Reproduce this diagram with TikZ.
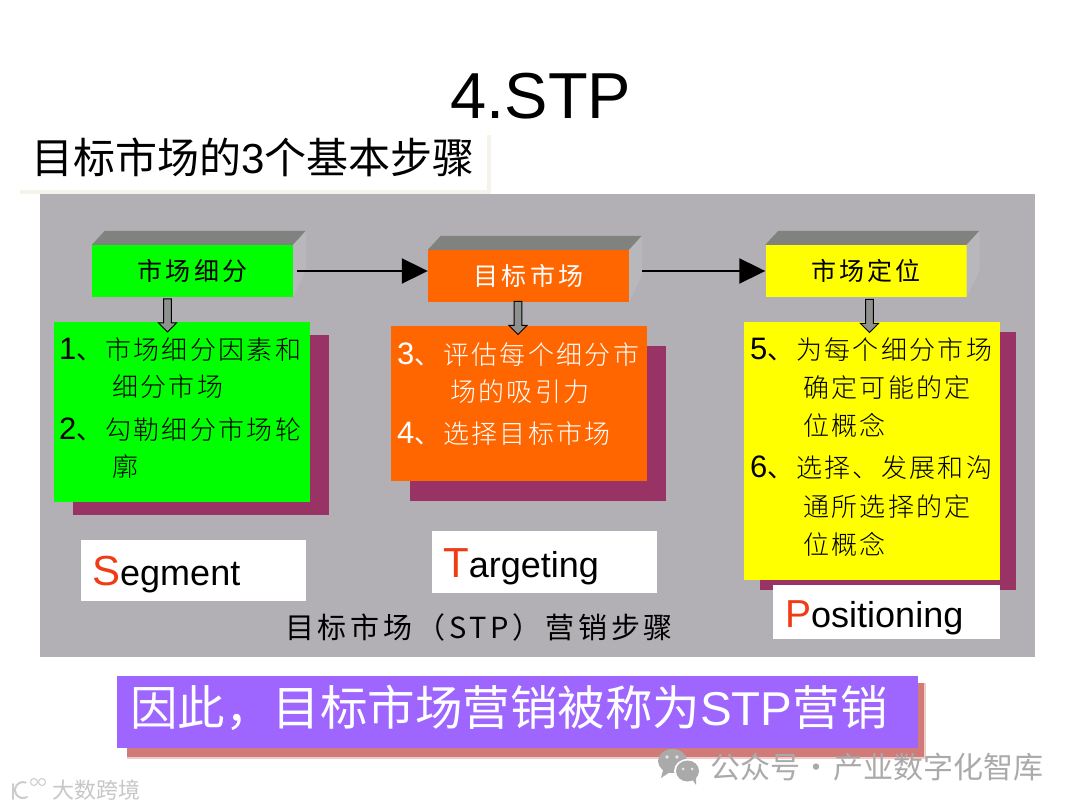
\documentclass[tikz,border=0pt]{standalone}
\usepackage{fontspec}
\usepackage{xcolor}
\usetikzlibrary{arrows,positioning,shapes.arrows}
\usepgflibrary{arrows.meta}
\setmainfont{Liberation Sans}
\newfontfamily\cjk{Noto Sans CJK SC}
\newfontfamily\cjkwide[LetterSpace=9]{Noto Sans CJK SC Light}
\newfontfamily\cjkhead[LetterSpace=13]{Noto Sans CJK SC}
\definecolor{panelgrey}{RGB}{178,176,180}
\definecolor{topgrey}{RGB}{128,130,128}
\definecolor{sidegrey}{RGB}{184,184,188}
\definecolor{arrowgrey}{RGB}{143,145,143}
\definecolor{maroon}{RGB}{153,51,102}
\definecolor{stpgreen}{RGB}{0,255,0}
\definecolor{stporange}{RGB}{255,102,0}
\definecolor{stpyellow}{RGB}{255,255,0}
\definecolor{stppurple}{RGB}{158,102,255}
\definecolor{letterred}{RGB}{240,60,20}
\definecolor{markgrey}{RGB}{170,170,170}
\definecolor{cream}{RGB}{246,243,234}
\definecolor{bannershade}{RGB}{208,122,122}
\definecolor{bannerfade}{RGB}{238,205,200}
\newcommand{\numline}[2]{\makebox[46pt][l]{{\fontsize{31}{31}\selectfont\rmfamily #1}\cjk 、}#2}
\newcommand{\contline}[1]{\hspace*{53pt}#1}
\newcommand{\bigletter}[3][42]{\raisebox{-15pt}[0pt][0pt]{{\fontsize{#1}{#1}\selectfont\color{letterred}#2}{\fontsize{36}{36}\selectfont #3}}}
\newcommand{\raised}[1]{
    \fill[topgrey] (#1.north west) -- ++(13,-14) -- ++(201,0) -- (#1.north east) -- cycle;
    \fill[sidegrey] (#1.north east) -- ++(13,-14) -- ++(0,39) -- (#1.south east) -- cycle;
}
\begin{document}
\begin{tikzpicture}
    [x=1pt, y=-1pt,
    header/.style={minimum width=201pt, minimum height=52pt, inner sep=0pt, font=\cjkhead\fontsize{25}{25}\selectfont},
    bodybox/.style={anchor=north west, minimum width=256pt, inner sep=0pt},
    backbox/.style={bodybox, fill=maroon},
    bodytext/.style={anchor=north west, inner sep=0pt, align=left, font=\cjkwide\fontsize{26}{37}\selectfont},
    namebox/.style={anchor=north west, fill=white, minimum width=225pt, inner sep=0pt, inner xsep=11pt, text width=203pt, align=left},
    downarrow/.style={single arrow, draw=black, fill=arrowgrey, line width=1pt, shape border rotate=270, minimum height=33pt, minimum width=18pt, inner sep=3pt, single arrow head extend=4.5pt, single arrow head indent=0pt},
    flow/.style={line width=2pt, -{Triangle[length=26pt,width=25pt]}}]
        \useasboundingbox (0,0) rectangle (1080,810);
        \fill[white] (0,0) rectangle (1080,810);

        %% Titles
        \node (title) at (541,96) {\fontsize{65}{65}\selectfont 4.STP};
        \fill[cream] (20,190) rectangle (491,194);
        \fill[cream] (487,135) rectangle (491,194);
        \node[anchor=west, inner sep=0pt] (subtitle) at (31,157) {\fontsize{42}{42}\selectfont\cjk 目标市场的{\rmfamily 3}个基本步骤};

        %% Grey panel
        \node[anchor=north west, fill=panelgrey, minimum width=995pt, minimum height=463pt, inner sep=0pt] (panel) at (40,194) {};

        %% Steps
        \node[header, fill=stpgreen] (S1) at (192.5,271) {市场细分};
        \node[header, fill=stporange, text=white] (T1) at (528.5,276) {目标市场};
        \node[header, fill=stpyellow] (P1) at (866,271) {市场定位};
        \raised{S1}
        \raised{T1}
        \raised{P1}

        \draw[flow, shorten <=4pt] (S1.east) -- (S1.east -| T1.west);
        \draw[flow, shorten <=13pt] (T1.east |- P1.west) -- (P1.west);

        %% Shadows and boxes
        \node[backbox, minimum height=180pt] (S3) at (73,335) {};
        \node[bodybox, fill=stpgreen, minimum height=180pt] (S2) at (54,322) {};
        \node[backbox, minimum height=155pt] (T3) at (410,346) {};
        \node[bodybox, fill=stporange, minimum height=155pt] (T2) at (391,326) {};
        \node[backbox, minimum height=258pt] (P3) at (760,332) {};
        \node[bodybox, fill=stpyellow, minimum height=258pt] (P2) at (744,322) {};

        \node[downarrow] (SA) at (167.5,313.5) {};
        \node[downarrow] (TA) at (518,316) {};
        \node[downarrow] (PA) at (869.5,314) {};

        \node[bodytext] (Stext) at (59,337) {\numline{1}{市场细分因素和}\\\contline{细分市场}\\[6pt]\numline{2}{勾勒细分市场轮}\\\contline{廓}};
        \node[bodytext, text=white] (Ttext) at (397,342) {\numline{3}{评估每个细分市}\\\contline{场的吸引力}\\[5pt]\numline{4}{选择目标市场}};
        \node[bodytext] (Ptext) at (750,337) {\numline{5}{为每个细分市场}\\[1.5pt]\contline{确定可能的定}\\[1pt]\contline{位概念}\\[5pt]\numline{6}{选择、发展和沟}\\[1.5pt]\contline{通所选择的定}\\[1pt]\contline{位概念}};

        %% Names of the steps
        \node[namebox, minimum height=61pt] (Sname) at (81,540) {\bigletter{S}{egment}};
        \node[namebox, minimum height=62pt] (Tname) at (432,531) {\bigletter{T}{argeting}};
        \node[namebox, minimum height=54pt, minimum width=226pt, inner xsep=12pt] (Pname) at (773,585) {\bigletter[39]{P}{ositioning}};
        \node (caption) at (479,627) {\cjkhead\fontsize{29}{29}\selectfont 目标市场（STP）营销步骤};

        %% Banner
        \fill[bannerfade] (127,683) rectangle (926,759);
        \fill[bannershade] (127,683) rectangle (924,757);
        \node[anchor=north west, fill=stppurple, minimum width=801pt, minimum height=72pt, inner sep=0pt] (banner) at (117,676) {};
        \node[anchor=west, inner sep=0pt, text=white] (bannertext) at (130,708) {\fontsize{47.5}{47.5}\selectfont\cjk 因此，目标市场营销被称为{\rmfamily STP}营销};

        %% Marks at the foot
        \fill[markgrey] (672.5,761) ellipse (14.5 and 12);
        \fill[markgrey] (663,770) -- (661,778) -- (670,772) -- cycle;
        \fill[white] (687.5,771) ellipse (13.5 and 12);
        \fill[markgrey] (687.5,771) ellipse (11.5 and 10.5);
        \fill[markgrey] (692,779) -- (696,785) -- (696,775) -- cycle;
        \fill[white!70!markgrey] (667,757) circle (1.8) (677,757) circle (1.8) (683,769) circle (1.5) (692,769) circle (1.5);
        \node[anchor=west, inner sep=0pt, text=markgrey] (account) at (710,767) {\fontsize{30}{30}\selectfont\cjk 公众号\makebox[33pt][c]{·}产业数字化智库};
        \draw[black!20, line width=2pt, line cap=round] (13,784) -- (13,799);
        \draw[black!20, line width=2pt, line cap=round] (27,797) arc (60:290:8);
        \draw[black!20, line width=1pt] (34,782) circle (3.5) (42,782) circle (3.5);
        \node[anchor=west, inner sep=0pt, text=black!22] (brand) at (52,790) {\fontsize{22}{22}\selectfont\cjk 大数跨境};
    \end{tikzpicture}
\end{document}
